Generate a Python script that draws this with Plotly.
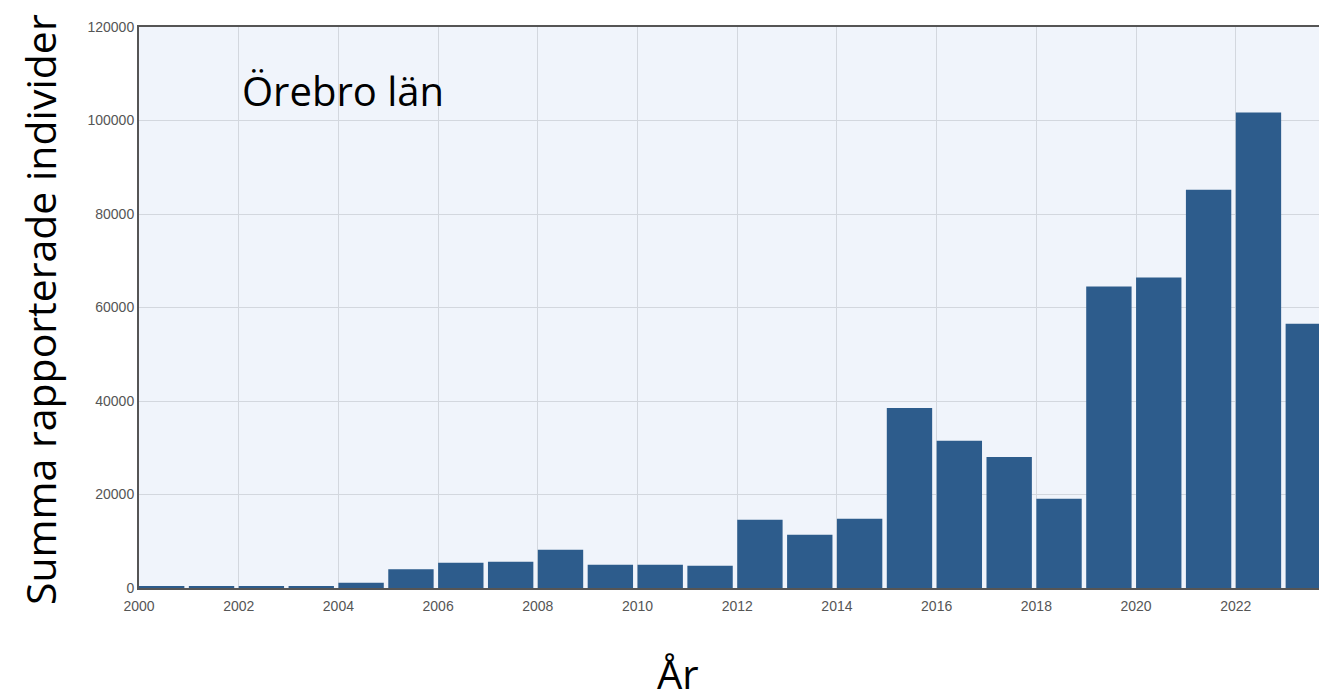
import plotly.graph_objects as go

# Årtal och summa rapporterade individer per år
years = list(range(2000, 2024))
individer = [250, 300, 430, 430, 1100, 4000, 5400, 5600, 8200, 4950, 4950, 4750,
             14600, 11400, 14800, 38500, 31500, 28000, 19100, 64500, 66400, 85200,
             101700, 56500]

y_ticks = [0, 20000, 40000, 60000, 80000, 100000, 120000]
x_ticks = list(range(2000, 2023, 2))

BAR_COLOR = "#2d5c8c"
AXIS_COLOR = "#555555"
TITLE_FONT = "Open Sans"


def build_figure():
    fig = go.Figure(go.Bar(x=years, y=individer, offset=0, width=0.91,
                           marker=dict(color=BAR_COLOR, line=dict(width=0)),
                           hoverinfo="x+y"))

    # sidan har 8 px marginal, så figuren görs lite mindre
    fig.update_layout(
        width=1319, height=692,
        margin=dict(l=131, r=0, t=19, b=112),
        paper_bgcolor="white",
        plot_bgcolor="#f0f4fb",
        showlegend=False,
        font=dict(family="Arial", size=14, color=AXIS_COLOR),
    )

    fig.update_xaxes(range=[2000, 2023.83], tickvals=x_ticks, tickformat="d",
                     showgrid=True, gridcolor="#d3d7de", gridwidth=1,
                     showline=True, linecolor=AXIS_COLOR, linewidth=2, mirror=True,
                     ticks="", zeroline=False, ticklabelstandoff=4,
                     tickfont=dict(size=14, color=AXIS_COLOR))
    fig.update_yaxes(range=[0, 120000], tickvals=y_ticks, tickformat="d",
                     showgrid=True, gridcolor="#d3d7de", gridwidth=1,
                     showline=True, linecolor=AXIS_COLOR, linewidth=2,
                     ticks="", zeroline=False, tickfont=dict(size=14, color=AXIS_COLOR))

    # axeltitlar och länsnamn som fria textrutor
    fig.add_annotation(text="Summa rapporterade individer", textangle=-90,
                       xref="paper", yref="paper", x=0, y=0.4955, xshift=-99,
                       xanchor="center", yanchor="middle", showarrow=False,
                       font=dict(family=TITLE_FONT, size=41, color="black"))
    fig.add_annotation(text="År", xref="paper", yref="paper", x=0.4537, y=-0.153,
                       xanchor="center", yanchor="middle", showarrow=False,
                       font=dict(family=TITLE_FONT, size=40, color="black"))
    fig.add_annotation(text="Örebro län", xref="paper", yref="paper", x=0.085, y=0.887,
                       xanchor="left", yanchor="middle", showarrow=False,
                       font=dict(family=TITLE_FONT, size=40, color="black"))
    return fig


if __name__ == "__main__":
    fig = build_figure()
    fig.write_html("out.html")
